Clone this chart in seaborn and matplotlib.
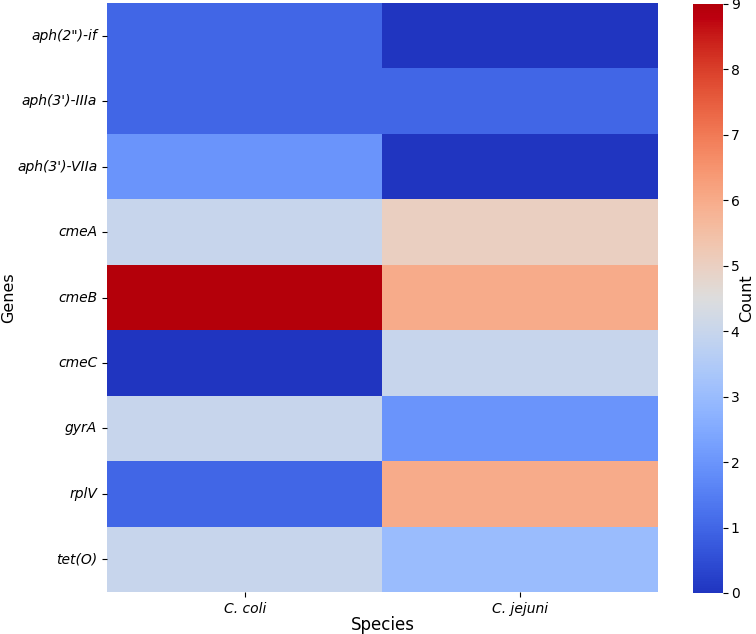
import numpy as np
import pandas as pd
import matplotlib
matplotlib.use("Agg")
import matplotlib.pyplot as plt
from matplotlib.colors import ListedColormap
import seaborn as sns

genes = ['aph(2")-if', "aph(3')-IIIa", "aph(3')-VIIa", "cmeA", "cmeB", "cmeC", "gyrA", "rplV", "tet(O)"]
species = ["C. coli", "C. jejuni"]
c_coli = [1, 1, 2, 4, 9, 0, 4, 1, 4]
c_jejuni = [0, 1, 0, 5, 6, 4, 2, 6, 3]

df = pd.DataFrame({species[0]: c_coli, species[1]: c_jejuni}, index=genes)

# coolwarm with slightly boosted saturation (as in the reference rendering)
base = plt.get_cmap("coolwarm")(np.linspace(0, 1, 256))[:, :3]
v = base.max(axis=1, keepdims=True)
boosted = np.clip(v - (v - base) * 1.2, 0, 1)
cmap = ListedColormap(boosted)

fig = plt.figure(figsize=(7.56, 6.34), dpi=100)
ax = fig.add_axes([0.1415, 0.0662, 0.7289, 0.929])
cax = fig.add_axes([0.9167, 0.0647, 0.0397, 0.929])
sns.heatmap(df, cmap=cmap, vmin=0, vmax=9, ax=ax, cbar_ax=cax)
ax.set_xlabel("Species", fontsize=12, labelpad=0)
ax.set_ylabel("Genes", fontsize=11.5, va="center")
ax.yaxis.set_label_coords(-0.178, 0.5)
ax.set_xticklabels(species, fontstyle="italic", fontsize=10, rotation=0)
ax.set_yticklabels(genes, fontstyle="italic", fontsize=10, rotation=0)
cax.yaxis.set_ticks(range(10))
cax.tick_params(labelsize=10, pad=2)
cax.set_ylabel("Count", fontsize=11.5, va="center")
cax.yaxis.set_label_coords(1.8, 0.5)
fig.savefig("out.png", dpi=100)
